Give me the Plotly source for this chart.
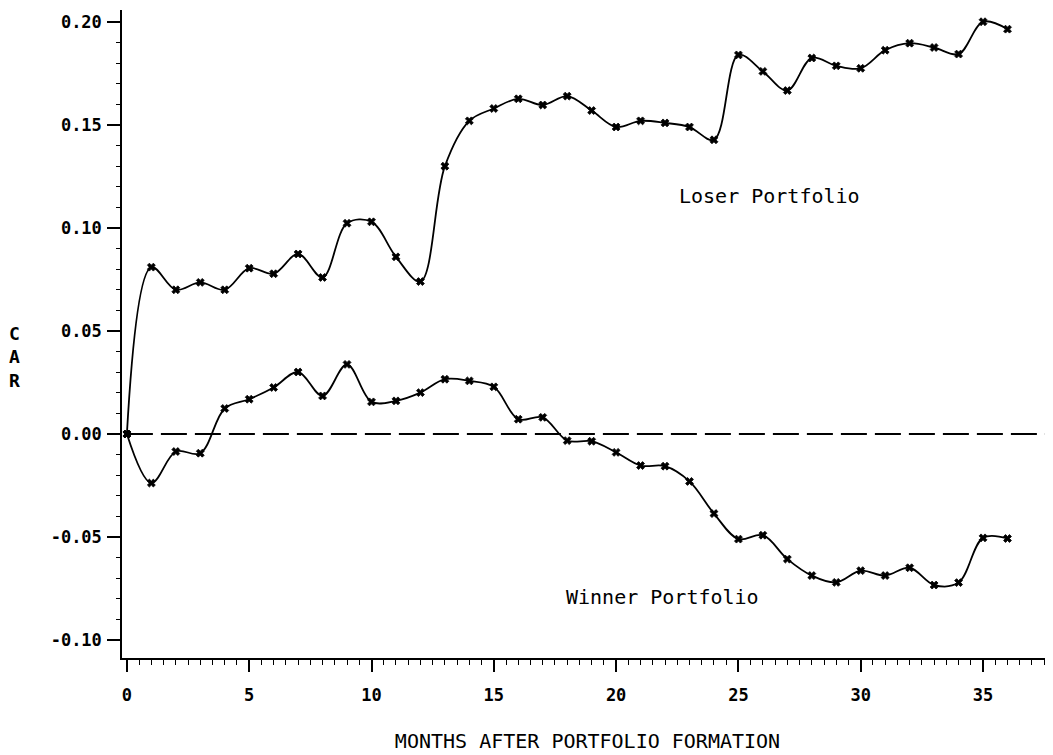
import plotly.graph_objects as go

months = list(range(0, 37))

loser_car = [0.000, 0.081, 0.070, 0.0736, 0.070, 0.0805, 0.0778, 0.0874, 0.076, 0.1023,
             0.103, 0.086, 0.074, 0.130, 0.152, 0.158, 0.1627, 0.1597, 0.164,
             0.157, 0.149, 0.152, 0.151, 0.149, 0.1428, 0.184, 0.176, 0.1667, 0.1825,
             0.1787, 0.1775, 0.1863, 0.1897, 0.1876, 0.1844, 0.2001, 0.1965]

winner_car = [0.000, -0.0238, -0.0085, -0.0093, 0.0124, 0.0169, 0.0226, 0.0301, 0.0185, 0.0338,
              0.0156, 0.0161, 0.0201, 0.0266, 0.0258, 0.0229, 0.0072, 0.0081, -0.0032,
              -0.0035, -0.0089, -0.0153, -0.0156, -0.023, -0.0386, -0.051, -0.0491, -0.0607,
              -0.0687, -0.072, -0.0663, -0.0687, -0.0649, -0.0733, -0.0721, -0.0504, -0.0507]

y_tickvals = [-0.10, -0.05, 0.00, 0.05, 0.10, 0.15, 0.20]
y_ticktext = ["-0.10", "-0.05", "0.00", "0.05", "0.10", "0.15", "0.20"]
x_tickvals = [0, 5, 10, 15, 20, 25, 30, 35]
x_ticktext = ["0", "5", "10", "15", "20", "25", "30", "35"]

MONO = "DejaVu Sans Mono"
X_MIN, X_MAX = -0.2, 37.86

fig = go.Figure()

# zero reference line
fig.add_shape(type="line", xref="x", yref="y", x0=0, x1=X_MAX, y0=0, y1=0,
              line=dict(color="black", width=2, dash="26px,8px"))

for name, ys in [("Loser Portfolio", loser_car), ("Winner Portfolio", winner_car)]:
    fig.add_trace(go.Scatter(
        x=months, y=ys, mode="lines+markers", name=name,
        line=dict(color="black", width=1.8, shape="spline", smoothing=1.0),
        marker=dict(symbol="x", size=7, color="black", line=dict(width=0.8, color="black")),
        showlegend=False,
    ))

fig.add_annotation(x=26.25, y=0.1155, text="Loser Portfolio", showarrow=False,
                   font=dict(family=MONO, size=20, color="black"))
fig.add_annotation(x=21.9, y=-0.079, text="Winner Portfolio", showarrow=False,
                   font=dict(family=MONO, size=20, color="black"))
fig.add_annotation(xref="paper", yref="paper", x=-0.116, y=0.465, xanchor="center",
                   yanchor="middle", text="C<br>A<br>R", showarrow=False,
                   font=dict(family=MONO, size=18, color="black", weight="bold"))

fig.update_layout(
    width=1045, height=747,
    margin=dict(l=114, r=0, t=2, b=97),
    paper_bgcolor="white", plot_bgcolor="white",
    font=dict(family=MONO, color="black"),
    xaxis=dict(
        range=[X_MIN, X_MAX], showgrid=False, zeroline=False,
        showline=True, linecolor="black", linewidth=1.5,
        tickmode="array", tickvals=x_tickvals, ticktext=x_ticktext,
        ticks="outside", ticklen=12, tickwidth=1.5, tickcolor="black",
        ticklabelstandoff=9,
        tickfont=dict(family=MONO, size=17, color="black", weight="bold"),
        minor=dict(dtick=0.5, tick0=0, ticks="outside", ticklen=5, tickwidth=1.3, tickcolor="black"),
        title=dict(text="MONTHS AFTER PORTFOLIO FORMATION", standoff=30,
                   font=dict(family=MONO, size=20, color="black")),
    ),
    yaxis=dict(
        range=[-0.1087, 0.2058], showgrid=False, zeroline=False,
        showline=True, linecolor="black", linewidth=1.5,
        tickmode="array", tickvals=y_tickvals, ticktext=y_ticktext,
        ticks="outside", ticklen=13, tickwidth=1.5, tickcolor="black",
        ticklabelstandoff=2,
        tickfont=dict(family=MONO, size=17, color="black", weight="bold"),
        minor=dict(dtick=0.01, tick0=0, ticks="outside", ticklen=4, tickwidth=1.3, tickcolor="black"),
    ),
)

fig.write_html("out.html")
